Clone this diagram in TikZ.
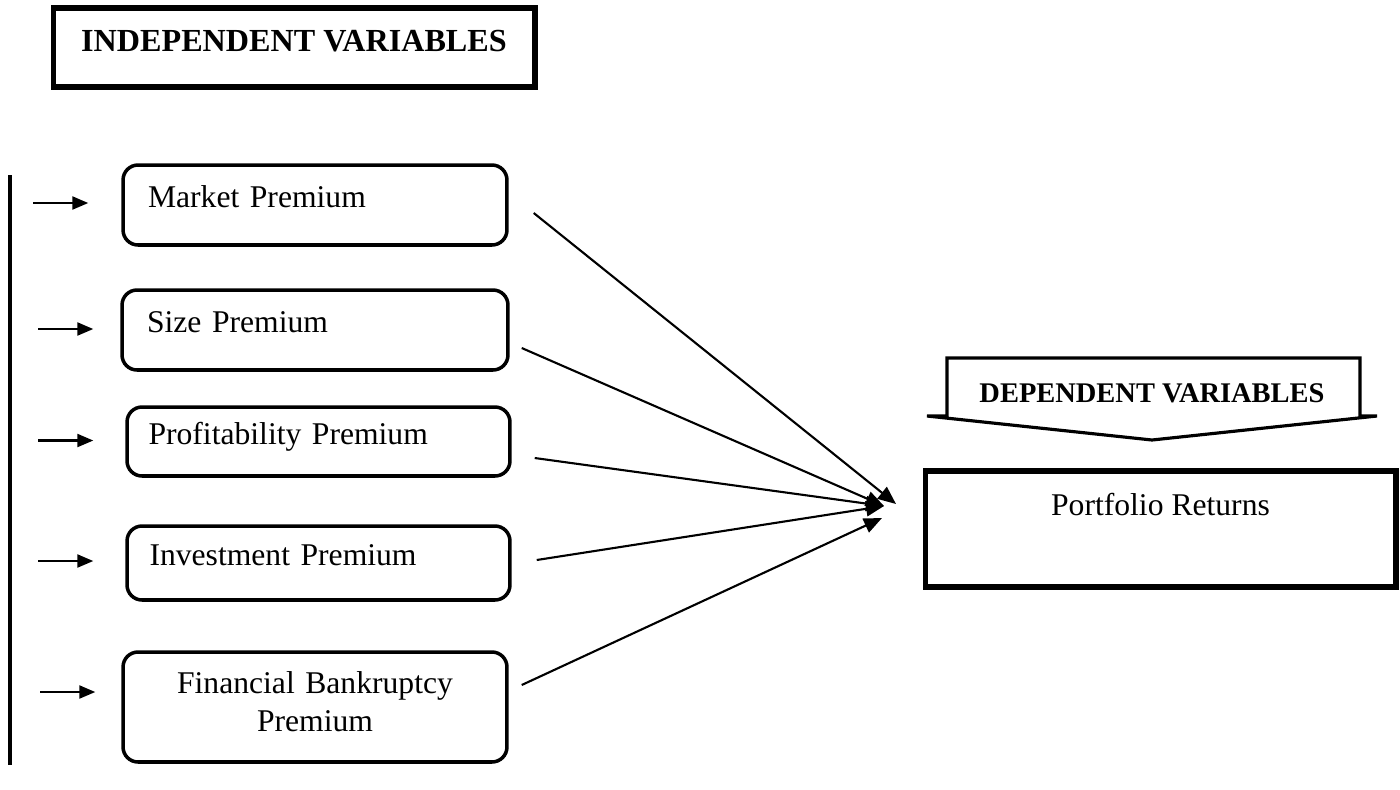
\documentclass[tikz,border=0pt]{standalone}
\usepackage{fontspec}
\setmainfont{Liberation Serif}
\usetikzlibrary{arrows.meta,calc}

\begin{document}
\begin{tikzpicture}[x=0.02cm,y=-0.02cm,
	varbox/.style={draw,rounded corners=0.3cm,line width=2pt,inner xsep=0.5cm,
		font=\fontsize{18}{21.6}\selectfont,text height=12.5pt,text depth=9.5pt},
	headbox/.style={draw,line width=2.9pt,font=\bfseries\fontsize{18.3}{21}\selectfont},
	inarrow/.style={line width=1.3pt,-{Triangle[length=0.32cm,width=0.26cm]}},
	conn/.style={line width=1.2pt,-{Triangle[length=0.36cm,width=0.3cm]}}]
			\useasboundingbox (0,0) rectangle (1400,789);
			% independent side
			\node[headbox,minimum width=9.64cm,minimum height=1.58cm,text height=14pt,text depth=10pt] (indep) at (294,47.5) {INDEPENDENT VARIABLES};
			\draw[line width=2pt] (10,175)--(10,765);
			\node[varbox,minimum width=7.68cm,minimum height=1.6cm,text width=6.68cm,align=left] (mkt) at (315,205) {Market Premium};
			\node[varbox,minimum width=7.72cm,minimum height=1.6cm,text width=6.72cm,align=left] (size) at (315,330) {Size Premium};
			\node[varbox,minimum width=7.66cm,minimum height=1.38cm,text width=6.8cm,inner xsep=0.43cm,align=left] (prof) at (318.5,441.5) {Profitability Premium};
			\node[varbox,minimum width=7.66cm,minimum height=1.48cm,text width=6.76cm,inner xsep=0.45cm,align=left] (inv) at (318.5,563) {Investment Premium};
			\node[varbox,minimum width=7.68cm,minimum height=2.2cm,text width=6.68cm,align=center,text depth=28pt] (fin) at (315,707) {Financial Bankruptcy\\Premium};
			\draw[inarrow] ($(mkt.west)+(-88,-2)$)--($(mkt.west)+(-33,-2)$);
			\draw[inarrow] ($(size.west)+(-82,-1)$)--($(size.west)+(-27,-1)$);
			\draw[inarrow] ($(prof.west)+(-87,-1)$)--($(prof.west)+(-32,-1)$);
			\draw[inarrow] ($(inv.west)+(-87,-2)$)--($(inv.west)+(-32,-2)$);
			\draw[inarrow] ($(fin.west)+(-81,-15)$)--($(fin.west)+(-26,-15)$);
			% dependent side
			\draw[line width=1.8pt,line join=miter] (927,416)--(947,416)--(947,358)--(1360,358)--(1360,416)--(1377,416)--(1152,440)--cycle;
			\node[font=\bfseries\fontsize{16.2}{19}\selectfont] (dep) at (1152,393) {DEPENDENT VARIABLES};
			\node[draw,line width=2.9pt,minimum width=9.42cm,minimum height=2.32cm,font=\fontsize{18}{21.6}\selectfont,text height=12.5pt,text depth=28pt] (ret) at (1160.5,529) {Portfolio Returns};
			% connectors
			\coordinate (mtip) at (896,504);
			\coordinate (hub) at (884,506);
			\coordinate (ftip) at (882,518);
			\draw[conn] ($(mkt.east)+(25,8)$)--(mtip);
			\draw[conn] ($(size.east)+(12,18)$)--(hub);
			\draw[conn] ($(prof.east)+(23,16.5)$)--(hub);
			\draw[conn] ($(inv.east)+(25,-3)$)--(hub);
			\draw[conn] ($(fin.east)+(13,-22)$)--(ftip);
		\end{tikzpicture}
\end{document}
